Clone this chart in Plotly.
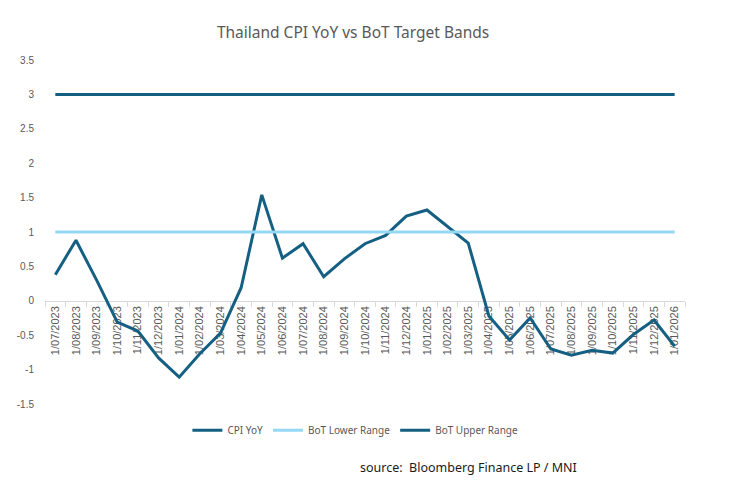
import plotly.graph_objects as go

months = ["1/07/2023", "1/08/2023", "1/09/2023", "1/10/2023", "1/11/2023", "1/12/2023",
          "1/01/2024", "1/02/2024", "1/03/2024", "1/04/2024", "1/05/2024", "1/06/2024",
          "1/07/2024", "1/08/2024", "1/09/2024", "1/10/2024", "1/11/2024", "1/12/2024",
          "1/01/2025", "1/02/2025", "1/03/2025", "1/04/2025", "1/05/2025", "1/06/2025",
          "1/07/2025", "1/08/2025", "1/09/2025", "1/10/2025", "1/11/2025", "1/12/2025",
          "1/01/2026"]
cpi_yoy = [0.38, 0.88, 0.30, -0.31, -0.44, -0.83,
           -1.11, -0.77, -0.47, 0.19, 1.54, 0.62,
           0.83, 0.35, 0.61, 0.83, 0.95, 1.23,
           1.32, 1.08, 0.84, -0.22, -0.57, -0.25,
           -0.70, -0.79, -0.72, -0.76, -0.49, -0.28,
           -0.66]
lower_band = [1.0] * len(months)
upper_band = [3.0] * len(months)
y_ticks = [-1.5, -1, -0.5, 0, 0.5, 1, 1.5, 2, 2.5, 3, 3.5]

DARK = "#156082"
LIGHT = "#95D8F3"
GRAY = "#595959"

fig = go.Figure()
fig.add_trace(go.Scatter(x=months, y=cpi_yoy, mode="lines", name="CPI YoY",
                         line=dict(color=DARK, width=3)))
fig.add_trace(go.Scatter(x=months, y=lower_band, mode="lines", name="BoT Lower Range",
                         line=dict(color=LIGHT, width=3)))
fig.add_trace(go.Scatter(x=months, y=upper_band, mode="lines", name="BoT Upper Range",
                         line=dict(color=DARK, width=3)))

fig.update_layout(
    width=756, height=482,
    margin=dict(l=45, r=71, t=60, b=78),
    paper_bgcolor="white", plot_bgcolor="white",
    title=dict(text="Thailand CPI YoY vs BoT Target Bands",
               font=dict(family="Noto Sans", size=15.5, color=GRAY),
               xref="container", x=0.467, xanchor="center",
               yref="container", y=1 - 33 / 482, yanchor="middle"),
    showlegend=True,
    legend=dict(orientation="h", x=0.485, xanchor="center", y=-0.076, yanchor="middle",
                font=dict(family="Noto Sans", size=10, color=GRAY),
                itemwidth=30, tracegroupgap=0),
    xaxis=dict(type="category", range=[-0.5, len(months) - 0.5],
               anchor="free", position=0.3,
               showline=True, linecolor="#D9D9D9", linewidth=1,
               ticks="outside", tickson="boundaries", ticklen=5, tickcolor="#D9D9D9",
               tickangle=-90, showgrid=False, zeroline=False,
               tickfont=dict(family="Liberation Sans", size=11, color=GRAY),
               layer="below traces", fixedrange=True),
    yaxis=dict(range=[-1.5, 3.5], tickvals=y_ticks,
               ticktext=[f"{v:g}" for v in y_ticks],
               showgrid=False, zeroline=False, showline=False,
               ticks="", ticklabelstandoff=10,
               tickfont=dict(family="Liberation Sans", size=10, color=GRAY)),
    annotations=[dict(text="source:  Bloomberg Finance LP / MNI",
                      xref="paper", yref="paper", x=(358 - 45) / 640, y=(404 - 468) / 344,
                      xanchor="left", yanchor="middle", showarrow=False,
                      font=dict(family="Noto Sans", size=12.5, color="#1a1a1a"))],
)

fig.write_html("out.html")
